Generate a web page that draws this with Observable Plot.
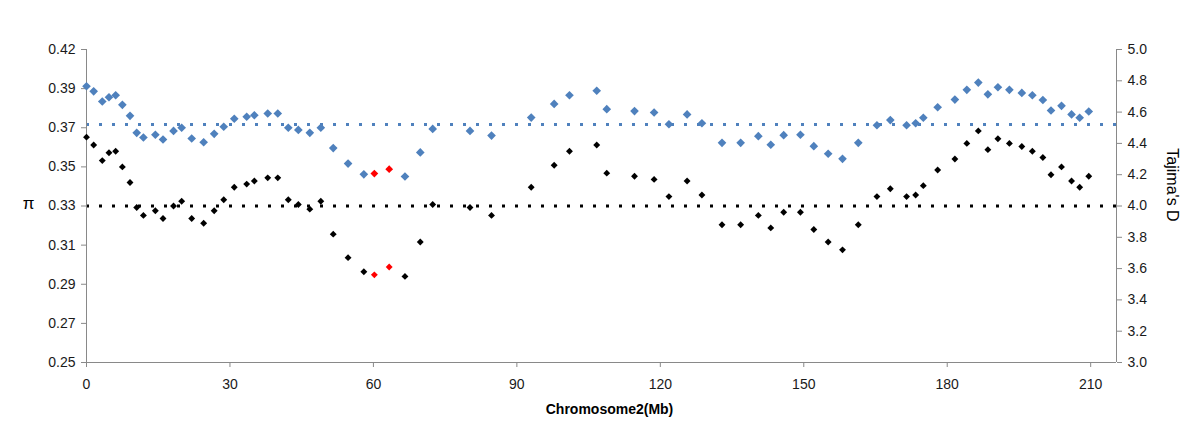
<!DOCTYPE html>
<html>
<head>
<meta charset="utf-8">
<script src="https://cdn.jsdelivr.net/npm/d3@7"></script>
<script src="https://cdn.jsdelivr.net/npm/@observablehq/plot@0.6"></script>
<style>
  html, body { margin: 0; padding: 0; background: #fff; }
  #chart svg { display: block; }
</style>
</head>
<body>
<div id="chart"></div>
<script>
// Window positions along chromosome 2 (Mb)
const positionsMb = [0.0,1.5,3.3,4.7,6.1,7.5,9.1,10.5,11.9,14.4,16.0,18.2,19.9,22.0,24.5,26.7,28.7,30.9,33.5,35.1,37.9,40.0,42.2,44.3,46.7,49.0,51.6,54.7,58.0,60.2,63.3,66.6,69.8,72.4,80.2,84.7,93.0,97.8,101.0,106.7,108.8,114.6,118.7,121.8,125.6,128.7,132.9,136.8,140.5,143.1,145.8,149.3,152.1,155.1,158.1,161.4,165.3,168.1,171.5,173.4,175.0,178.0,181.6,184.1,186.5,188.5,190.6,193.0,195.6,197.8,200.0,201.7,203.9,206.0,207.7,209.6];
// Nucleotide diversity (left axis)
const piValues = [0.3912,0.3886,0.3834,0.3856,0.3866,0.3817,0.3761,0.3674,0.3650,0.3664,
  0.3640,0.3684,0.3700,0.3645,0.3626,0.3669,0.3705,0.3746,0.3756,0.3764,
  0.3773,0.3773,0.3700,0.3689,0.3674,0.3700,0.3596,0.3517,0.3462,0.3466,
  0.3488,0.3451,0.3574,0.3694,0.3684,0.3660,0.3752,0.3822,0.3866,0.3889,
  0.3795,0.3785,0.3778,0.3718,0.3768,0.3723,0.3623,0.3623,0.3657,0.3613,
  0.3662,0.3664,0.3606,0.3567,0.3541,0.3623,0.3713,0.3739,0.3713,0.3723,
  0.3751,0.3805,0.3844,0.3894,0.3931,0.3871,0.3907,0.3894,0.3878,0.3866,
  0.3842,0.3788,0.3812,0.3768,0.3751,0.3783];
// Tajima's D (right axis)
const tajimaD = [4.44,4.39,4.29,4.34,4.35,4.25,4.15,3.99,3.94,3.97,
  3.92,4.00,4.03,3.92,3.89,3.97,4.04,4.12,4.14,4.16,
  4.18,4.18,4.04,4.01,3.98,4.03,3.82,3.67,3.58,3.56,
  3.61,3.55,3.77,4.01,3.99,3.94,4.12,4.26,4.35,4.39,
  4.21,4.19,4.17,4.06,4.16,4.07,3.88,3.88,3.94,3.86,
  3.96,3.96,3.85,3.77,3.72,3.88,4.06,4.11,4.06,4.07,
  4.13,4.23,4.30,4.40,4.48,4.36,4.43,4.40,4.38,4.35,
  4.31,4.20,4.25,4.16,4.12,4.19];
// Highlighted windows (red)
const highlightedMb = [60.2, 63.3];
// Genome-wide averages (dotted lines)
const piMean = 0.3717;
const tajimaMean = 4.0;

// Axes
const xTicks = [0, 30, 60, 90, 120, 150, 180, 210];
const xMax = 215.4;
const piTickValues = [0.25, 0.27, 0.29, 0.31, 0.33, 0.35, 0.37, 0.39, 0.41];
const piTickLabels = ["0.25", "0.27", "0.29", "0.31", "0.33", "0.35", "0.37", "0.39", "0.42"];
const dTickValues = [3.0, 3.2, 3.4, 3.6, 3.8, 4.0, 4.2, 4.4, 4.6, 4.8, 5.0];
const dMin = 3.0, dMax = 5.0;
const piMin = 0.25, piMax = 0.41;

const dToPi = d => piMin + (d - dMin) / (dMax - dMin) * (piMax - piMin);
const piToD = p => dMin + (p - piMin) / (piMax - piMin) * (dMax - dMin);

const rows = positionsMb.map((mb, i) => ({
  mb, pi: piValues[i], d: tajimaD[i], hl: highlightedMb.includes(mb)
}));
const normal = rows.filter(r => !r.hl);
const red = rows.filter(r => r.hl);

const BLUE = "#4F81BD", AXIS = "#898989", TEXT = "#1a1a1a";

const chart = Plot.plot({
  width: 1200,
  height: 443,
  marginLeft: 86,
  marginRight: 84,
  marginTop: 49,
  marginBottom: 81,
  style: { fontFamily: "'Liberation Sans', Arial, sans-serif", fontSize: "14px", background: "#fff", overflow: "visible" },
  x: { domain: [0, xMax] },
  y: { domain: [piMin, piMax] },
  marks: [
    Plot.ruleY([piMean], { stroke: BLUE, strokeWidth: 3, strokeDasharray: "3,10" }),
    Plot.ruleY([dToPi(tajimaMean)], { stroke: "#000", strokeWidth: 3, strokeDasharray: "3,10" }),
    Plot.ruleX([0, xMax], { stroke: AXIS, strokeWidth: 1 }),
    Plot.ruleY([piMin], { stroke: AXIS, strokeWidth: 1 }),
    Plot.axisX({ ticks: xTicks, tickFormat: d => String(d), tickSize: 5, tickPadding: 12, stroke: AXIS, fill: TEXT, label: null }),
    Plot.axisY({ anchor: "left", ticks: piTickValues, tickFormat: v => piTickLabels[piTickValues.indexOf(v)], tickSize: 5, tickPadding: 6, stroke: AXIS, fill: TEXT, label: null }),
    Plot.axisY({ anchor: "right", ticks: dTickValues.map(dToPi), tickFormat: v => piToD(v).toFixed(1), tickSize: 5, tickPadding: 6, stroke: AXIS, fill: TEXT, label: null }),
    Plot.dot(normal, { x: "mb", y: "pi", symbol: "diamond2", r: 3.9, fill: BLUE, stroke: "none" }),
    Plot.dot(normal, { x: "mb", y: d => dToPi(d.d), symbol: "diamond2", r: 3.1, fill: "#000", stroke: "none" }),
    Plot.dot(red, { x: "mb", y: "pi", symbol: "diamond2", r: 3.5, fill: "#FF0000", stroke: "none" }),
    Plot.dot(red, { x: "mb", y: d => dToPi(d.d), symbol: "diamond2", r: 3.1, fill: "#FF0000", stroke: "none" }),
    Plot.text(["π"], { frameAnchor: "left", dx: -58, dy: -2, textAnchor: "middle", fontSize: 17, fill: "#000" }),
    Plot.text(["Tajima's D"], { frameAnchor: "right", dx: 56, dy: -21, rotate: 90, textAnchor: "middle", fontSize: 16, fill: "#000" }),
    Plot.text(["Chromosome2(Mb)"], { frameAnchor: "bottom", dx: 8, dy: 51, textAnchor: "middle", fontSize: 14, fontWeight: "bold", fill: "#000" })
  ]
});
document.getElementById("chart").appendChild(chart);
</script>
</body>
</html>
